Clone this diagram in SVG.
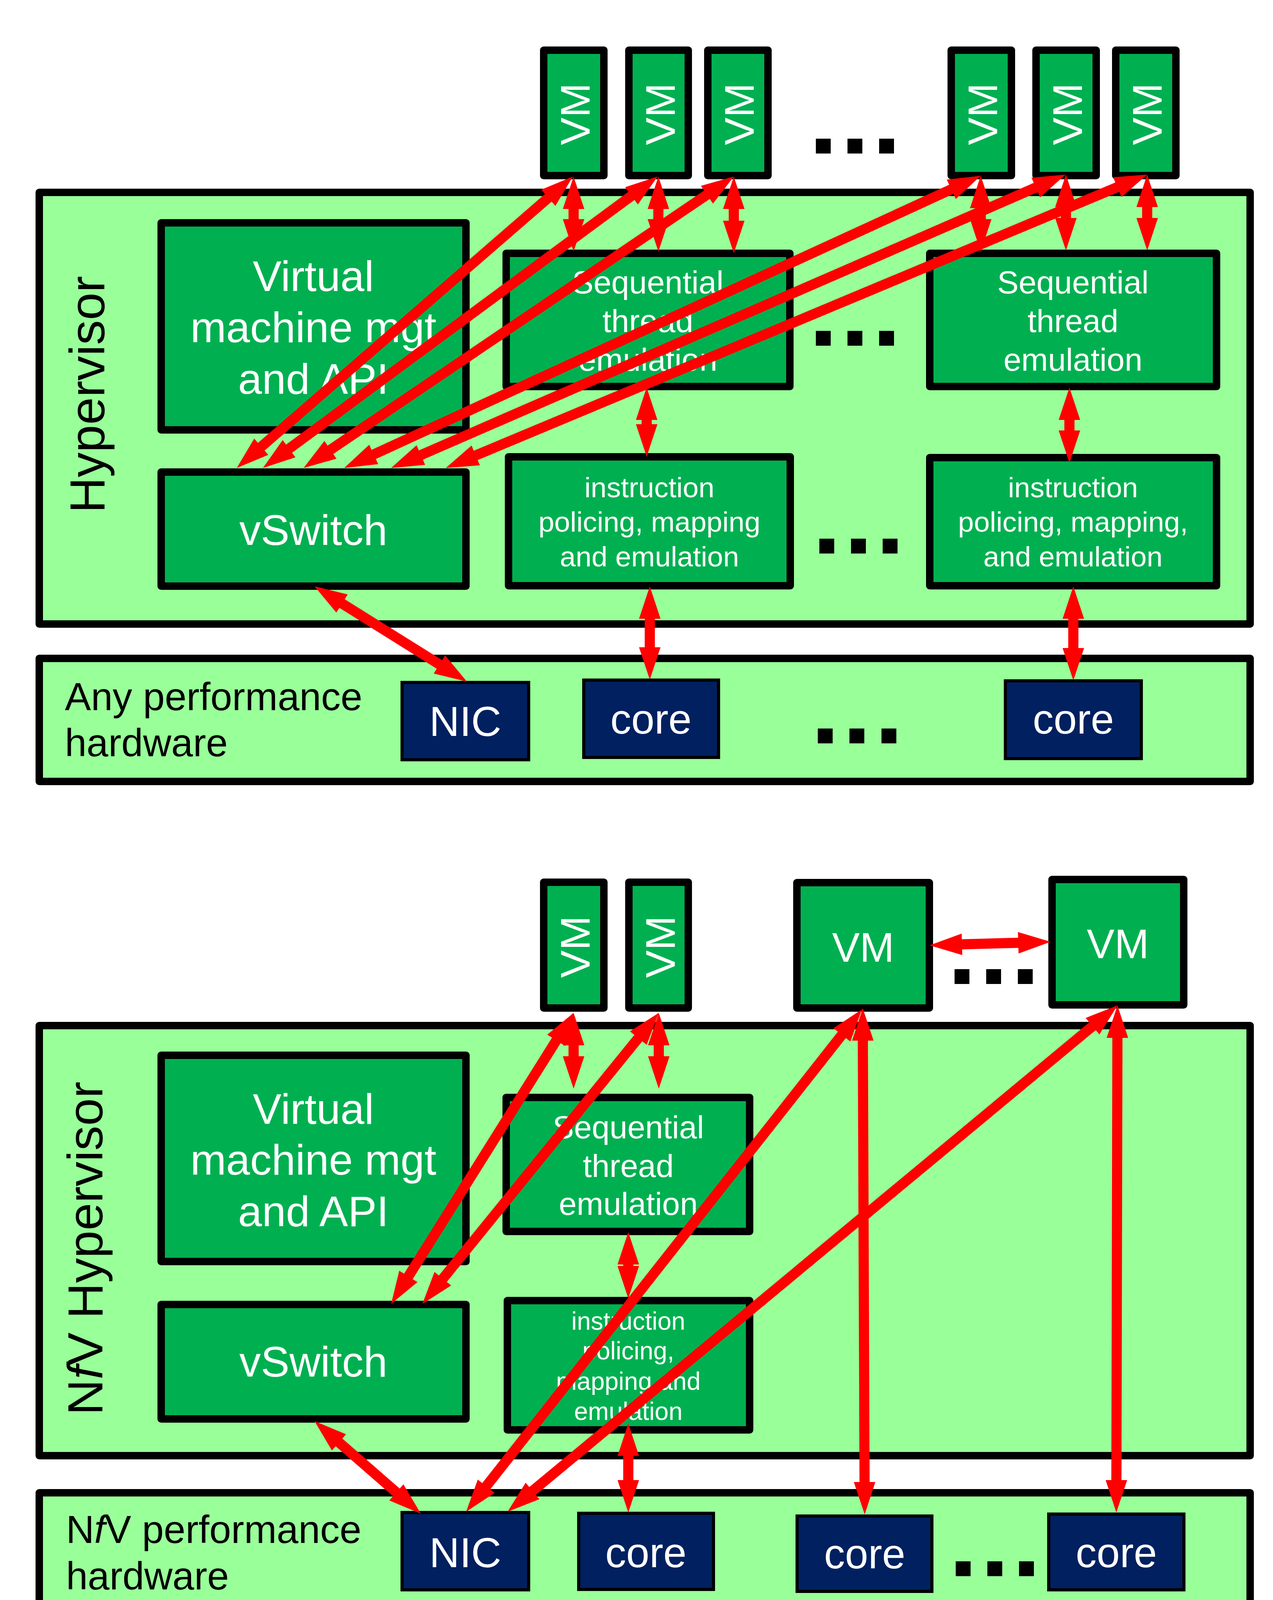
<svg xmlns="http://www.w3.org/2000/svg" width="3258" height="4171" viewBox="0 0 3258 4171">
<style>
text{font-family:"Liberation Sans",Arial,sans-serif}
.pane{fill:#99FF99;stroke:#000;stroke-width:19;stroke-linejoin:round}
.box{fill:#00B050;stroke:#000;stroke-width:19;stroke-linejoin:round}
.hw{fill:#002060;stroke:#000;stroke-width:8}
.dot{fill:#000}
.w{fill:#fff;text-anchor:middle}
.k{fill:#000}
.f110{font-size:110px}
.f82{font-size:82px}
.f73{font-size:73px}
.f64{font-size:64px}
.f107{font-size:107px}
.f106{font-size:106px}
.f100{font-size:100px}
.f127{font-size:127px}
.arr{stroke:#FF0000;stroke-width:26;fill:none;marker-start:url(#ah);marker-end:url(#ah)}
</style>
<defs>
<marker id="ah" markerUnits="userSpaceOnUse" orient="auto-start-reverse" refX="1" refY="0" markerWidth="90" markerHeight="60" overflow="visible">
<path d="M0,-27.5 L83,0 L0,27.5 Z" fill="#FF0000"/>
</marker>
</defs>
<rect width="3258" height="4171" fill="#fff"/>

<!-- ===== TOP DIAGRAM ===== -->
<g id="hypervisor-top">
<rect class="pane" x="100.5" y="492.5" width="3099" height="1105"/>
<text class="k f127" text-anchor="middle" transform="translate(267,1010) rotate(-90)">Hypervisor</text>
</g>
<g id="hw-top">
<rect class="pane" x="100.5" y="1685.5" width="3099" height="315"/>
<text class="k f100" x="166" y="1818">Any performance</text>
<text class="k f100" x="166" y="1936">hardware</text>
</g>
<g id="vmmgt-top">
<rect class="box" x="412.5" y="570.5" width="780" height="530"/>
<text class="w f110" x="802" y="745">Virtual</text>
<text class="w f110" x="802" y="876">machine mgt</text>
<text class="w f110" x="802" y="1008">and API</text>
</g>
<g id="vswitch-top">
<rect class="box" x="412.5" y="1208.5" width="780" height="292"/>
<text class="w f110" x="802" y="1395">vSwitch</text>
</g>
<g id="seq1-top">
<rect class="box" x="1295.5" y="648.5" width="726" height="341"/>
<text class="w f82" x="1658" y="751">Sequential</text>
<text class="w f82" x="1658" y="850">thread</text>
<text class="w f82" x="1658" y="949">emulation</text>
</g>
<g id="seq2-top">
<rect class="box" x="2379.5" y="648.5" width="734" height="341"/>
<text class="w f82" x="2746" y="751">Sequential</text>
<text class="w f82" x="2746" y="850">thread</text>
<text class="w f82" x="2746" y="949">emulation</text>
</g>
<g id="instr1-top">
<rect class="box" x="1301.5" y="1169.5" width="721" height="330"/>
<text class="w f73" x="1662" y="1273">instruction</text>
<text class="w f73" x="1662" y="1361">policing, mapping</text>
<text class="w f73" x="1662" y="1450">and emulation</text>
</g>
<g id="instr2-top">
<rect class="box" x="2379.5" y="1171.5" width="734" height="328"/>
<text class="w f73" x="2746" y="1273">instruction</text>
<text class="w f73" x="2746" y="1361">policing, mapping,</text>
<text class="w f73" x="2746" y="1450">and emulation</text>
</g>
<g id="nic-top">
<rect class="hw" x="1029" y="1747" width="324" height="198"/>
<text class="w f107" x="1191" y="1884">NIC</text>
</g>
<g id="core1-top">
<rect class="hw" x="1494" y="1741" width="345" height="198"/>
<text class="w f107" x="1666" y="1878">core</text>
</g>
<g id="core2-top">
<rect class="hw" x="2573" y="1743" width="348" height="199"/>
<text class="w f107" x="2747" y="1878">core</text>
</g>
<g id="vm1-top"><rect class="box" x="1391.5" y="128.5" width="154" height="321"/><text class="w f106" transform="translate(1509,292) rotate(-90)">VM</text></g>
<g id="vm2-top"><rect class="box" x="1609.5" y="128.5" width="152" height="321"/><text class="w f106" transform="translate(1727,292) rotate(-90)">VM</text></g>
<g id="vm3-top"><rect class="box" x="1811.5" y="128.5" width="154" height="321"/><text class="w f106" transform="translate(1929,292) rotate(-90)">VM</text></g>
<g id="vm4-top"><rect class="box" x="2434.5" y="128.5" width="154" height="321"/><text class="w f106" transform="translate(2552,292) rotate(-90)">VM</text></g>
<g id="vm5-top"><rect class="box" x="2651.5" y="128.5" width="154" height="321"/><text class="w f106" transform="translate(2769,292) rotate(-90)">VM</text></g>
<g id="vm6-top"><rect class="box" x="2855.5" y="128.5" width="154" height="321"/><text class="w f106" transform="translate(2973,292) rotate(-90)">VM</text></g>
<g id="dots-top">
<rect class="dot" x="2088" y="355" width="38" height="38"/><rect class="dot" x="2169" y="355" width="38" height="38"/><rect class="dot" x="2250" y="355" width="38" height="38"/>
<rect class="dot" x="2088" y="847" width="38" height="38"/><rect class="dot" x="2169" y="847" width="38" height="38"/><rect class="dot" x="2250" y="847" width="38" height="38"/>
<rect class="dot" x="2097" y="1379" width="38" height="38"/><rect class="dot" x="2178" y="1379" width="38" height="38"/><rect class="dot" x="2259" y="1379" width="38" height="38"/>
<rect class="dot" x="2093" y="1865" width="38" height="38"/><rect class="dot" x="2174" y="1865" width="38" height="38"/><rect class="dot" x="2256" y="1865" width="38" height="38"/>
</g>

<!-- ===== BOTTOM DIAGRAM ===== -->
<g id="hypervisor-bottom">
<rect class="pane" x="100.5" y="2625.5" width="3099" height="1101"/>
<text class="k f127" text-anchor="middle" transform="translate(262,3196) rotate(-90)">N<tspan font-style="italic">f</tspan>V Hypervisor</text>
</g>
<g id="hw-bottom">
<rect class="pane" x="100.5" y="3821.5" width="3099" height="306"/>
<text class="k f100" x="169" y="3950">N<tspan font-style="italic">f</tspan>V performance</text>
<text class="k f100" x="169" y="4069">hardware</text>
</g>
<g id="vmmgt-bottom">
<rect class="box" x="412.5" y="2701.5" width="780" height="528"/>
<text class="w f110" x="802" y="2877">Virtual</text>
<text class="w f110" x="802" y="3007">machine mgt</text>
<text class="w f110" x="802" y="3139">and API</text>
</g>
<g id="vswitch-bottom">
<rect class="box" x="412.5" y="3339.5" width="780" height="293"/>
<text class="w f110" x="802" y="3524">vSwitch</text>
</g>
<g id="seq-bottom">
<rect class="box" x="1295.5" y="2809.5" width="623" height="343"/>
<text class="w f82" x="1608" y="2914">Sequential</text>
<text class="w f82" x="1608" y="3013">thread</text>
<text class="w f82" x="1608" y="3110">emulation</text>
</g>
<g id="instr-bottom">
<rect class="box" x="1298.5" y="3329.5" width="620" height="331"/>
<text class="w f64" x="1608" y="3404">instruction</text>
<text class="w f64" x="1608" y="3480">policing,</text>
<text class="w f64" x="1608" y="3558">mapping and</text>
<text class="w f64" x="1608" y="3635">emulation</text>
</g>
<g id="nic-bottom">
<rect class="hw" x="1029" y="3872" width="324" height="198"/>
<text class="w f107" x="1191" y="4012">NIC</text>
</g>
<g id="core1-bottom">
<rect class="hw" x="1481" y="3874" width="345" height="195"/>
<text class="w f107" x="1653" y="4012">core</text>
</g>
<g id="core2-bottom">
<rect class="hw" x="2040" y="3881" width="345" height="193"/>
<text class="w f107" x="2213" y="4015">core</text>
</g>
<g id="core3-bottom">
<rect class="hw" x="2684" y="3876" width="346" height="194"/>
<text class="w f107" x="2857" y="4012">core</text>
</g>
<g id="vm1-bottom"><rect class="box" x="1391.5" y="2258.5" width="154" height="322"/><text class="w f106" transform="translate(1509,2424) rotate(-90)">VM</text></g>
<g id="vm2-bottom"><rect class="box" x="1609.5" y="2258.5" width="152" height="322"/><text class="w f106" transform="translate(1727,2424) rotate(-90)">VM</text></g>
<g id="vmA-bottom"><rect class="box" x="2039.5" y="2259.5" width="339" height="321"/><text class="w f106" x="2209" y="2462">VM</text></g>
<g id="vmB-bottom"><rect class="box" x="2692.5" y="2251.5" width="337" height="321"/><text class="w f106" x="2861" y="2453">VM</text></g>
<g id="dots-bottom">
<rect class="dot" x="2443" y="2481" width="38" height="38"/><rect class="dot" x="2524" y="2481" width="38" height="38"/><rect class="dot" x="2605" y="2481" width="38" height="38"/>
<rect class="dot" x="2446" y="3997" width="38" height="38"/><rect class="dot" x="2527" y="3997" width="38" height="38"/><rect class="dot" x="2608" y="3997" width="38" height="38"/>
</g>

<g id="connectors">
<!-- top -->
<path class="arr" d="M1404.1,505.7 L667.9,1144.3"/>
<path class="arr" d="M1617,500.7 L739,1149.3"/>
<path class="arr" d="M1810.1,498 L844.9,1152"/>
<path class="arr" d="M2435.5,484.2 L955.5,1163.8"/>
<path class="arr" d="M2651.8,479.7 L1076.2,1165.3"/>
<path class="arr" d="M2860.4,478.7 L1216.6,1166.3"/>
<path class="arr" d="M1468,534 L1468,562"/>
<path class="arr" d="M1685,534 L1685,562"/>
<path class="arr" d="M1878,534 L1878,566"/>
<path class="arr" d="M2510,532 L2510,562"/>
<path class="arr" d="M2728,529 L2728,559"/>
<path class="arr" d="M2936,529 L2936,559"/>
<path class="arr" d="M1655,1074 L1655,1087"/>
<path class="arr" d="M2737,1074 L2737,1103"/>
<path class="arr" d="M1663,1583 L1663,1658"/>
<path class="arr" d="M2747,1583 L2747,1660"/>
<path class="arr" d="M874.5,1544.5 L1125.5,1701.5"/>
<!-- bottom -->
<path class="arr" d="M1424.4,2662.5 L1044.6,3268.5"/>
<path class="arr" d="M1634.3,2656.7 L1132.7,3274.3"/>
<path class="arr" d="M1468,2675 L1468,2705"/>
<path class="arr" d="M1686,2675 L1686,2705"/>
<path class="arr" d="M1608,3236 L1608,3242"/>
<path class="arr" d="M1608,3726 L1608,3790"/>
<path class="arr" d="M866.8,3691.9 L1015.2,3821.1"/>
<path class="arr" d="M2155.3,2648.4 L1243.7,3805.6"/>
<path class="arr" d="M2796.9,2626.4 L1362.1,3817.6"/>
<path class="arr" d="M2208.3,2663 L2212.7,3795"/>
<path class="arr" d="M2859.8,2656 L2857.2,3790"/>
<path class="arr" d="M2461,2417.6 L2607,2413.4"/>
</g>
</svg>
